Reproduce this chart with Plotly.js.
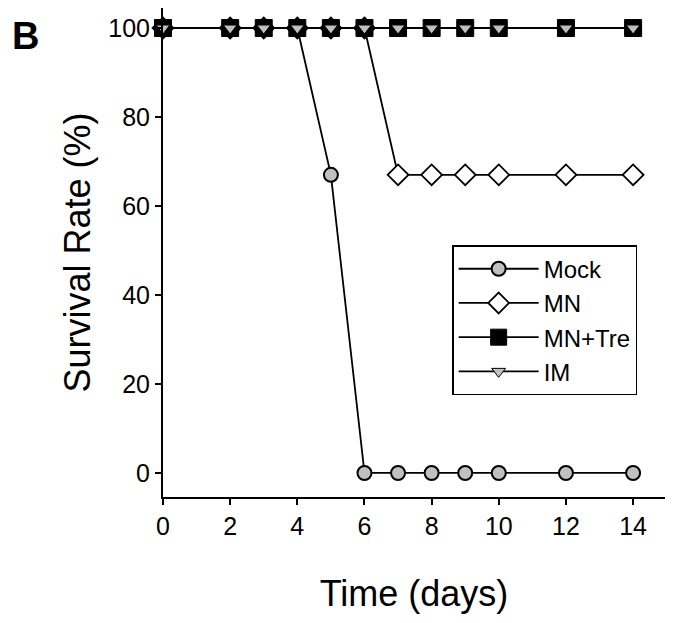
<!DOCTYPE html>
<html>
<head>
<meta charset="utf-8">
<script src="https://cdn.plot.ly/plotly-3.0.1.min.js"></script>
<style>html,body{margin:0;padding:0;background:#fff;}#chart{width:677px;height:623px;}</style>
</head>
<body>
<div id="chart"></div>
<script>
const days = [0, 2, 3, 4, 5, 6, 7, 8, 9, 10, 12, 14];
const mock = [100, 100, 100, 100, 67, 0, 0, 0, 0, 0, 0, 0];
const mn = [100, 100, 100, 100, 100, 100, 67, 67, 67, 67, 67, 67];
const mnTre = [100, 100, 100, 100, 100, 100, 100, 100, 100, 100, 100, 100];
const im = [100, 100, 100, 100, 100, 100, 100, 100, 100, 100, 100, 100];
const xTicks = [0, 2, 4, 6, 8, 10, 12, 14];
const yTicks = [0, 20, 40, 60, 80, 100];

const lineStyle = {color: '#000', width: 1.8};
const traces = [
  {x: days, y: mock, name: 'Mock', mode: 'lines+markers', line: lineStyle,
   marker: {symbol: 'circle', size: 14, color: '#c0c0c0', line: {color: '#000', width: 2}}},
  {x: days, y: mn, name: 'MN', mode: 'lines+markers', line: lineStyle,
   marker: {symbol: 'diamond', size: 16, color: '#fff', line: {color: '#000', width: 1.8}}},
  {x: days, y: mnTre, name: 'MN+Tre', mode: 'lines+markers', line: lineStyle,
   marker: {symbol: 'square', size: 17, color: '#000', line: {color: '#000', width: 1}}},
  {x: days, y: im, name: 'IM', mode: 'lines+markers', line: lineStyle,
   marker: {symbol: 'triangle-down', size: 12, color: '#c0c0c0', line: {color: '#000', width: 1}}}
].map(t => Object.assign(t, {cliponaxis: false}));

const font = {family: 'Liberation Sans, Arial, sans-serif', color: '#000'};
const layout = {
  width: 677, height: 623,
  margin: {l: 163, r: 12, t: 8, b: 126},
  paper_bgcolor: '#fff', plot_bgcolor: '#fff',
  showlegend: true,
  font: Object.assign({size: 20}, font),
  xaxis: {
    range: [0, 14.95], tickvals: xTicks, ticktext: xTicks.map(String),
    showline: true, linecolor: '#000', linewidth: 2, mirror: false,
    ticks: 'outside', ticklen: 6, tickwidth: 2, tickcolor: '#000',
    showgrid: false, zeroline: false,
    tickfont: Object.assign({size: 25}, font),
    title: {text: 'Time (days)', font: Object.assign({size: 36}, font), standoff: 42}
  },
  yaxis: {
    range: [-5.4, 104.5], tickvals: yTicks, ticktext: yTicks.map(String),
    showline: true, linecolor: '#000', linewidth: 2,
    ticks: 'outside', ticklen: 6, tickwidth: 2, tickcolor: '#000',
    showgrid: false, zeroline: false,
    tickfont: Object.assign({size: 25}, font),
    title: {text: 'Survival Rate (%)', font: Object.assign({size: 36}, font), standoff: 7}
  },
  legend: {
    x: 0.576, y: 0.515, xanchor: 'left', yanchor: 'top',
    bgcolor: '#fff', bordercolor: '#000', borderwidth: 1.5,
    font: Object.assign({size: 24}, font),
    itemwidth: 80, tracegroupgap: 0
  },
  annotations: [{
    text: '<b>B</b>', xref: 'paper', yref: 'paper', x: -0.305, y: 0.943,
    xanchor: 'left', yanchor: 'middle', showarrow: false,
    font: Object.assign({size: 38}, font)
  }]
};
Plotly.newPlot('chart', traces, layout, {displayModeBar: false, staticPlot: true});
</script>
</body>
</html>
